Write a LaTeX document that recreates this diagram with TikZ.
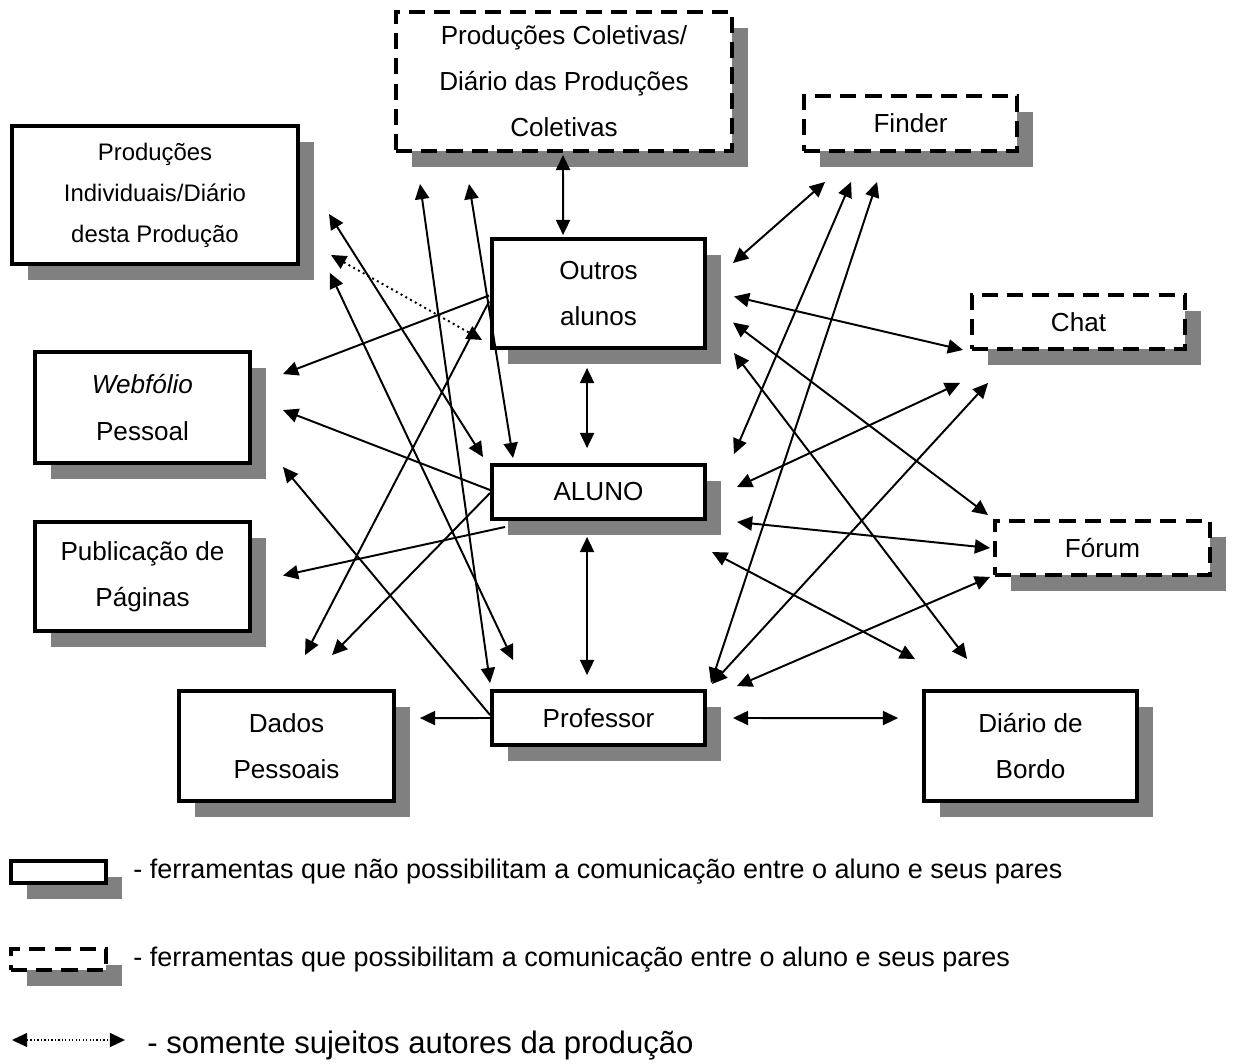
\documentclass[tikz,border=0pt]{standalone}
\usepackage{fontspec}
\setmainfont{Liberation Sans}
\usepackage{tikz}
\usetikzlibrary{arrows.meta, calc, shadows}

\definecolor{shadowgray}{HTML}{808080}
\newdimen\pxu
\pxu=0.46pt

\begin{document}
\begin{tikzpicture}[
  x=0.46pt, y=-0.46pt,
  tool/.style={draw, rectangle, line width=1.8pt, fill=white, align=center,
    font=\fontsize{12}{21.2}\selectfont,
    drop shadow={shadow xshift=7.4pt, shadow yshift=-7.4pt, opacity=1, fill=shadowgray}},
  comm_tool/.style={tool, dash pattern=on 7.4pt off 4.2pt},
  link/.style={{Triangle[length=7pt, width=6.5pt]}-{Triangle[length=7pt, width=6.5pt]}, line width=0.9pt},
  one_link/.style={-{Triangle[length=7pt, width=6.5pt]}, line width=0.9pt},
  author_link/.style={link, dash pattern=on 0.9pt off 1.6pt},
  legend_text/.style={anchor=base west, inner sep=0pt, font=\fontsize{12.4}{14}\selectfont}
]
  \useasboundingbox (0,0) rectangle (1236,1063);

  % tools
  \node (colet) [comm_tool, minimum width=336\pxu, minimum height=139\pxu] at (564,81.5)
    {Produções Coletivas/\\Diário das Produções\\Coletivas};
  \node (indiv) [tool, minimum width=286\pxu, minimum height=138\pxu, font=\fontsize{11}{18.9}\selectfont] at (155,195)
    {Produções\\Individuais/Diário\\desta Produção};
  \node (finder) [comm_tool, minimum width=213\pxu, minimum height=55\pxu] at (910.5,123.5) {Finder};
  \node (chat) [comm_tool, minimum width=213\pxu, minimum height=54\pxu] at (1078.5,322) {Chat};
  \node (webf) [tool, minimum width=215\pxu, minimum height=111\pxu] at (142.5,407.5) {\textit{Webfólio}\\Pessoal};
  \node (publ) [tool, minimum width=215\pxu, minimum height=109\pxu] at (142.5,576.5) {Publicação de\\Páginas};
  \node (forum) [comm_tool, minimum width=215\pxu, minimum height=54\pxu] at (1102.5,548) {Fórum};
  \node (dados) [tool, minimum width=215\pxu, minimum height=110\pxu] at (286.5,746) {Dados\\Pessoais};
  \node (diario) [tool, minimum width=213\pxu, minimum height=110\pxu] at (1030.5,746) {Diário de\\Bordo};

  % subjects
  \node (outros) [tool, minimum width=213\pxu, minimum height=109\pxu] at (598.5,293.5) {Outros\\alunos};
  \node (aluno) [tool, minimum width=213\pxu, minimum height=54\pxu] at (598.5,492) {ALUNO};
  \node (prof) [tool, minimum width=213\pxu, minimum height=54\pxu] at (598.5,718) {Professor};

  % vertical links
  \draw[link] ($(colet.south)+(-1,2)$) -- ($(outros.north west)+(73,-2)$);
  \draw[link] ($(outros.south west)+(97,18)$) -- ($(aluno.north west)+(97,-15)$);
  \draw[link] ($(aluno.south west)+(97,16)$) -- ($(prof.north west)+(97,-14)$);
  \draw[link] ($(prof.east)+(26,0)$) -- ($(diario.north west)+(-24,29)$);
  \draw[one_link] (prof.west) -- ($(dados.north east)+(24,29)$);

  % productions
  \draw[link] ($(colet.south west)+(26,31)$) -- ($(prof.north west)+(0,-6)$);
  \draw[link] ($(colet.south west)+(75,31)$) -- ($(aluno.north west)+(23,-5)$);
  \draw[link] ($(indiv.east)+(29,19)$) -- ($(aluno.north west)+(-7,-6)$);
  \draw[author_link] ($(indiv.south east)+(31,-11)$) -- ($(outros.south west)+(-8,-10)$);
  \draw[link] ($(indiv.south east)+(30,7)$) -- ($(prof.north west)+(23,-29)$);

  % left side tools
  \draw[one_link] ($(outros.west)+(-1,2)$) -- ($(webf.north east)+(31,24)$);
  \draw[one_link] ($(aluno.west)+(0,-2)$) -- ($(webf.north east)+(31,60)$);
  \draw[one_link] ($(prof.west)+(0,-3)$) -- ($(webf.south east)+(31,2)$);
  \draw[one_link] ($(aluno.south west)+(15,6)$) -- ($(publ.east)+(31,-1)$);
  \draw[one_link] ($(outros.west)+(-1,8)$) -- ($(dados.north west)+(128,-34)$);
  \draw[one_link] ($(aluno.west)+(0,1)$) -- ($(dados.north west)+(155,-34)$);

  % right side tools
  \draw[link] ($(outros.north east)+(26,26)$) -- ($(finder.south west)+(23,29)$);
  \draw[link] ($(aluno.north east)+(27,-9)$) -- ($(finder.south west)+(49,29)$);
  \draw[link] ($(prof.north east)+(4,-6)$) -- ($(finder.south west)+(75,29)$);
  \draw[link] ($(outros.east)+(27,3)$) -- ($(chat.south west)+(-7,-1)$);
  \draw[link] ($(aluno.east)+(30,-5)$) -- ($(chat.south west)+(-10,32)$);
  \draw[link] ($(prof.north east)+(5,-5)$) -- ($(chat.south west)+(18,32)$);
  \draw[link] ($(outros.east)+(26,29)$) -- ($(forum.north west)+(-5,-4)$);
  \draw[link] ($(aluno.south east)+(30,1)$) -- ($(forum.west)+(-3,0)$);
  \draw[link] ($(prof.north east)+(30,-3)$) -- ($(forum.south west)+(-3,0)$);
  \draw[link] ($(outros.south east)+(27,3)$) -- ($(diario.north west)+(45,-30)$);
  \draw[link] ($(aluno.south east)+(5,31)$) -- ($(diario.north west)+(-7,-30)$);

  % legend
  \node (leg_plain) [tool, minimum width=95\pxu, minimum height=22\pxu] at (58.5,872) {};
  \node (leg_plain_txt) [legend_text] at (133,878)
    {- ferramentas que não possibilitam a comunicação entre o aluno e seus pares};
  \node (leg_comm) [comm_tool, minimum width=95\pxu, minimum height=21\pxu] at (58.5,959.5) {};
  \node (leg_comm_txt) [legend_text] at (133,966)
    {- ferramentas que possibilitam a comunicação entre o aluno e seus pares};
  \coordinate (leg_a) at (12,1040);
  \coordinate (leg_b) at (125,1040);
  \draw[link, line width=0.6pt, dash pattern=on 0.6pt off 1pt] (leg_a) -- (leg_b);
  \node (leg_author_txt) [legend_text, font=\fontsize{14.3}{16}\selectfont] at (147,1053) {- somente sujeitos autores da produção};

\end{tikzpicture}
\end{document}
